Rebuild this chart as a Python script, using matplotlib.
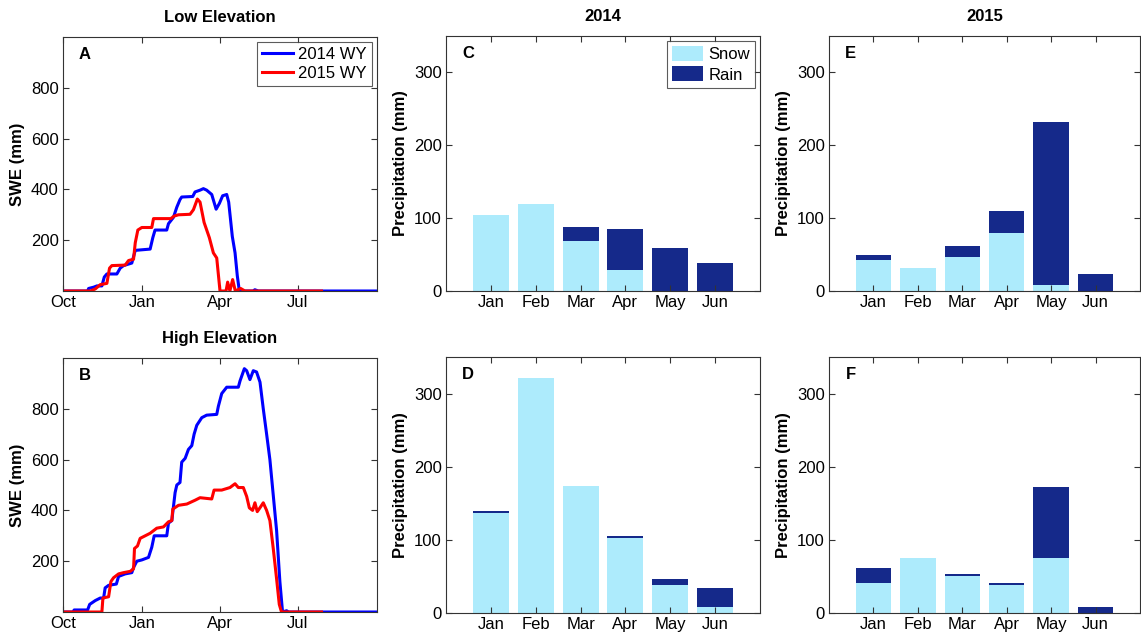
import matplotlib
matplotlib.use("Agg")
import matplotlib.pyplot as plt
import numpy as np

plt.rcParams['font.family'] = ['Liberation Sans', 'DejaVu Sans']
plt.rcParams['font.size'] = 12

# ---------------- Data ----------------
# SWE series: day of water year (0 = Oct 1) and SWE (mm)
low_2014_day = [0, 28.6, 29.8, 35.6, 39.4, 45.2, 48, 51, 62.6, 66.5, 70.4, 80, 84, 101.3, 104.4, 107, 120.6,
                122.6, 128.4, 132.3, 136, 138, 150.8, 153.5, 159.3, 163.2, 167, 172.9, 178, 181.8, 185.6,
                190.3, 192.6, 196.8, 200, 202.6, 205, 221, 223, 227, 365]
low_2014_swe = [0, 0, 10, 15, 20, 20, 55, 67, 67, 90, 100, 110, 160, 165, 210, 240, 240,
                265, 290, 330, 360, 370, 372, 390, 397, 403, 397, 380, 322, 345, 375,
                380, 350, 215, 150, 60, 0, 0, 5, 0, 0]

low_2015_day = [0, 31.7, 37.5, 43.3, 51, 54.1, 56.8, 72.3, 76.2, 82, 84, 87, 91.6, 103.2, 105.2, 125.3,
                129.2, 134.2, 147.7, 151.6, 156.2, 159.3, 164, 170.1, 174.8, 178.7, 182.5, 189.5,
                191.4, 194, 197.2, 200.3, 206.5, 211.5, 300.5]
low_2015_swe = [0, 0, 8, 25, 30, 90, 100, 102, 120, 125, 190, 240, 250, 250, 285, 285,
                295, 300, 302, 320, 362, 350, 270, 210, 150, 130, 0, 0,
                35, 0, 45, 0, 10, 0, 0]

high_2014_day = [0, 11.6, 13, 28.6, 31, 37.5, 43.3, 47.2, 49, 53, 62, 64.6, 72.3, 80, 82, 85.8, 91.6,
                 99.4, 103.2, 106, 120.6, 122.6, 126.5, 130.3, 132.3, 136, 138, 142, 145.8, 149.7,
                 152.4, 155.5, 161.3, 167, 178.7, 180.6, 184.5, 190.3, 203.8, 205.8, 210.8, 213.5,
                 217.3, 221.2, 225, 229, 232.8, 236.7, 240.5, 244.4, 248.3, 252.1, 255.2, 259.9,
                 262.2, 365]
high_2014_swe = [0, 0, 8, 8, 30, 45, 55, 55, 95, 105, 110, 140, 150, 155, 175, 200, 205,
                 215, 255, 300, 300, 350, 360, 470, 500, 510, 590, 605, 640, 655,
                 700, 735, 765, 775, 778, 810, 860, 885, 885, 910, 958, 950,
                 915, 950, 945, 905, 800, 700, 600, 460, 320, 120, 0, 5,
                 0, 0]

high_2015_day = [0, 45.2, 46.4, 53, 55.7, 58.8, 64.6, 70.4, 78.1, 82, 83.1, 86.6, 89.7, 95.5, 101.3,
                 109, 116.8, 122.6, 126.5, 127.6, 134.2, 143.9, 153.5, 159.3, 172.9, 175.6, 184.5,
                 194.1, 200, 203.8, 209.6, 213.5, 216.6, 220.4, 223.1, 225.8, 228.9, 232.8, 236.7,
                 240.5, 244.4, 248.3, 251.4, 254, 300.5]
high_2015_swe = [0, 0, 55, 60, 120, 135, 150, 155, 160, 170, 250, 260, 290, 300, 310,
                 330, 335, 355, 360, 405, 420, 425, 440, 450, 445, 480, 480,
                 490, 505, 490, 490, 455, 410, 400, 430, 395, 410, 430, 400,
                 360, 250, 130, 30, 0, 0]

swe_ticks = [0, 92, 182, 273]
swe_tick_labels = ['Oct', 'Jan', 'Apr', 'Jul']

months = ['Jan', 'Feb', 'Mar', 'Apr', 'May', 'Jun']

# Precipitation (mm): snow and rain per month
low_2014_snow = [105, 120, 69, 29, 0, 0]
low_2014_rain = [0, 0, 19, 56, 59, 38]
high_2014_snow = [137, 321, 174, 102, 38, 8]
high_2014_rain = [3, 0, 0, 3, 8, 26]
low_2015_snow = [42, 32, 46, 80, 8, 0]
low_2015_rain = [8, 0, 16, 30, 224, 24]
high_2015_snow = [41, 75, 51, 38, 75, 0]
high_2015_rain = [21, 0, 3, 3, 97, 8]

# ---------------- Style ----------------
SNOW = '#ADEBFC'
RAIN = '#15298A'
AXC = '#333333'
FS = 12
W, H = 1141, 635

fig = plt.figure(figsize=(W / 100, H / 100), dpi=100)


def ax_at(left, top, right, bottom):
    return fig.add_axes([left / W, 1 - bottom / H, (right - left) / W, (bottom - top) / H])


def style(ax):
    for s in ax.spines.values():
        s.set_color(AXC)
        s.set_linewidth(0.8)
    ax.tick_params(direction='in', top=True, right=True, length=4, width=0.8,
                   color=AXC, labelsize=FS, labelcolor='black', pad=3)


def letter(ax, t, x=0.07):
    ax.text(x, 0.93, t, transform=ax.transAxes, ha='center', va='center',
            fontsize=FS, fontweight='bold')


def make_legend(ax, **kw):
    leg = ax.legend(loc='upper right', fontsize=FS, frameon=True, fancybox=False,
                    borderaxespad=0.3, handletextpad=0.3, borderpad=0.3,
                    labelspacing=0.25, **kw)
    leg.get_frame().set_edgecolor(AXC)
    leg.get_frame().set_linewidth(0.8)


def swe_panel(ax, d14, s14, d15, s15, title, let, legend=False):
    ax.plot(d14, s14, color='#0000FF', lw=2.2, label='2014 WY')
    ax.plot(d15, s15, color='#FF0000', lw=2.2, label='2015 WY')
    ax.set_xlim(0, 365)
    ax.set_ylim(0, 1000)
    ax.set_yticks([200, 400, 600, 800])
    ax.set_xticks(swe_ticks)
    ax.set_xticklabels(swe_tick_labels)
    ax.set_ylabel('SWE (mm)', fontweight='bold', fontsize=FS, labelpad=4)
    ax.set_title(title, fontweight='bold', fontsize=FS, pad=11)
    style(ax)
    letter(ax, let)
    if legend:
        make_legend(ax, handlelength=1.9)


def bar_panel(ax, snow, rain, let, title=None, legend=False):
    x = np.arange(1, len(months) + 1)
    ax.bar(x, snow, width=0.8, color=SNOW, edgecolor='none', label='Snow')
    ax.bar(x, rain, width=0.8, bottom=snow, color=RAIN, edgecolor='none', label='Rain')
    ax.set_xlim(0, 7)
    ax.set_ylim(0, 350)
    ax.set_yticks([0, 100, 200, 300])
    ax.set_xticks(x)
    ax.set_xticklabels(months)
    ax.set_ylabel('Precipitation (mm)', fontweight='bold', fontsize=FS, labelpad=4)
    if title:
        ax.set_title(title, fontweight='bold', fontsize=FS, pad=11)
    style(ax)
    letter(ax, let)
    if legend:
        make_legend(ax, handlelength=1.9, handleheight=1.0)


axA = ax_at(63, 37, 377, 291)
axB = ax_at(63, 358, 377, 612)
axC = ax_at(446, 36, 760, 291)
axD = ax_at(446, 357, 760, 613)
axE = ax_at(829, 36, 1140, 291)
axF = ax_at(829, 357, 1140, 613)

swe_panel(axA, low_2014_day, low_2014_swe, low_2015_day, low_2015_swe, 'Low Elevation', 'A', legend=True)
swe_panel(axB, high_2014_day, high_2014_swe, high_2015_day, high_2015_swe, 'High Elevation', 'B')
bar_panel(axC, low_2014_snow, low_2014_rain, 'C', title='2014', legend=True)
bar_panel(axD, high_2014_snow, high_2014_rain, 'D')
bar_panel(axE, low_2015_snow, low_2015_rain, 'E', title='2015')
bar_panel(axF, high_2015_snow, high_2015_rain, 'F')

fig.savefig('out.png', dpi=100, facecolor='white')
